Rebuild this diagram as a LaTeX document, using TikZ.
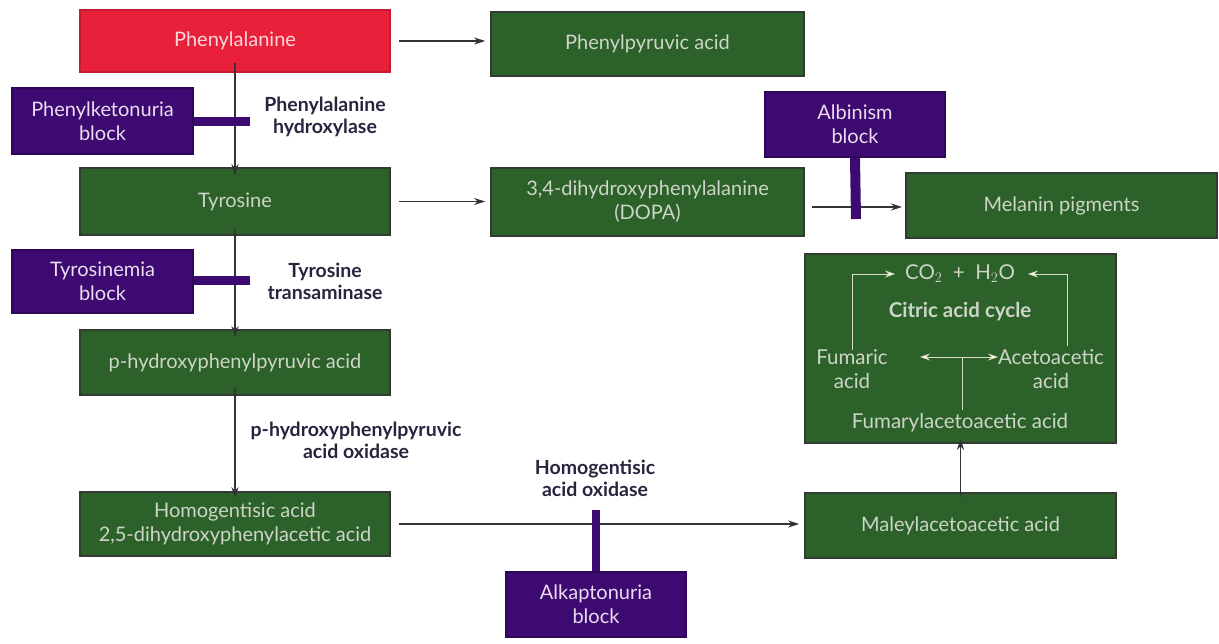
\documentclass[tikz,border=0pt]{standalone}
\usepackage{fontspec}
\setmainfont{Lato}
\usetikzlibrary{arrows.meta}
\definecolor{gfill}{RGB}{44,98,42}
\definecolor{gborder}{RGB}{50,58,50}
\definecolor{gtext}{RGB}{205,212,200}
\definecolor{rfill}{RGB}{232,32,58}
\definecolor{rtext}{RGB}{250,215,220}
\definecolor{pfill}{RGB}{60,10,112}
\definecolor{pborder}{RGB}{45,6,88}
\definecolor{ptext}{RGB}{235,220,240}
\definecolor{labcol}{RGB}{40,36,62}
\definecolor{arrcol}{RGB}{50,50,55}
\definecolor{incol}{RGB}{215,220,190}
\tikzset{
  box/.style={inner sep=0pt, align=center, font=\fontsize{20}{24}\selectfont, line width=1.6pt},
  gbox/.style={box, draw=gborder, fill=gfill, text=gtext},
  rbox/.style={box, draw=rfill!85!black, fill=rfill, text=rtext},
  pbox/.style={box, draw=pborder, fill=pfill, text=ptext},
  lab/.style={align=center, text=labcol, font=\fontsize{19.5}{22}\selectfont\bfseries},
  arr/.style={draw=arrcol, line width=1.4pt, -{Stealth[length=11pt,width=7pt]}},
  bar/.style={draw=pfill, line width=9pt},
  intext/.style={text=gtext, align=center, font=\fontsize{20.5}{24}\selectfont},
  inarr/.style={draw=incol, line width=0.7pt, -{Stealth[length=10pt,width=7pt,fill=white]}},
  inline/.style={draw=incol, line width=0.7pt},
}
\begin{document}
\begin{tikzpicture}[x=1pt,y=-1pt]
\useasboundingbox (0,0) rectangle (1219,644);
% main boxes
\node[rbox, minimum width=310pt, minimum height=62pt] (phe) at (235,41) {Phenylalanine};
\node[gbox, minimum width=313pt, minimum height=64pt] (ppa) at (647.5,44) {Phenylpyruvic acid};
\node[pbox, minimum width=181pt, minimum height=66pt] (pku) at (102.5,121) {Phenylketonuria\\block};
\node[gbox, minimum width=310pt, minimum height=67pt] (tyr) at (235,201.5) {Tyrosine};
\node[gbox, minimum width=313pt, minimum height=68pt] (dopa) at (647.5,202) {3,4-dihydroxyphenylalanine\\(DOPA)};
\node[pbox, minimum width=180pt, minimum height=65pt] (alb) at (855,124.5) {Albinism\\block};
\node[gbox, minimum width=311pt, minimum height=65pt] (mel) at (1061.5,205.5) {Melanin pigments};
\node[pbox, minimum width=181pt, minimum height=63pt] (tyrb) at (102.5,281.5) {Tyrosinemia\\block};
\node[gbox, minimum width=310pt, minimum height=65pt] (php) at (235,362.5) {p-hydroxyphenylpyruvic acid};
\node[gbox, minimum width=311pt, minimum height=189pt] (cac) at (960.5,348.5) {};
\node[gbox, minimum width=310pt, minimum height=64pt] (hga) at (235,524) {Homogentisic acid\\2,5-dihydroxyphenylacetic acid};
\node[gbox, minimum width=311pt, minimum height=65pt] (mal) at (960.5,525.5) {Maleylacetoacetic acid};
\node[pbox, minimum width=180pt, minimum height=65pt] (alk) at (596,604.5) {Alkaptonuria\\block};
% enzyme labels
\node[lab] (l1) at (325,117) {Phenylalanine\\hydroxylase};
\node[lab] (l2) at (325,281) {Tyrosine\\transaminase};
\node[lab] (l3) at (356,440) {p-hydroxyphenylpyruvic\\acid oxidase};
\node[lab] (l4) at (595,478) {Homogentisic\\acid oxidase};
% arrows
\coordinate (dopaout) at (812,207);
\coordinate (melin) at (902,207);
\draw[arr] ([xshift=8pt]phe.east) -- ([xshift=-5pt]phe.east -| ppa.west);
\draw[arr] ([yshift=10pt]phe.south) -- ([yshift=-8pt]tyr.north);
\draw[arr] ([xshift=8pt]tyr.east) -- ([xshift=-5pt]tyr.east -| dopa.west);
\draw[arr] (dopaout) -- (melin);
\draw[arr] ([yshift=7pt]tyr.south) -- ([yshift=-8pt]php.north);
\draw[arr] ([yshift=8pt]php.south) -- ([yshift=-7pt]hga.north);
\draw[arr] ([xshift=8pt]hga.east) -- ([xshift=-5pt]hga.east -| mal.west);
\draw[arr] ([yshift=-5pt]mal.north) -- ([yshift=5pt]cac.south);
% block bars
\coordinate (pkuend) at (250,121.5);
\coordinate (tyrbend) at (250,281);
\coordinate (albend) at (856,219);
\coordinate (alkend) at (596,510);
\draw[bar] (pku.east |- pkuend) -- (pkuend);
\draw[bar] (tyrb.east |- tyrbend) -- (tyrbend);
\draw[bar, line width=10pt] (alb.south) -- (albend);
\draw[bar, line width=8pt] (alk.north) -- (alkend);
% citric acid cycle contents
\node[intext] (co2) at (960,274) {CO$_2$ \ + \ H$_2$O};
\node[intext, font=\fontsize{20.5}{24}\selectfont\bfseries] (cit) at (960,312) {Citric acid cycle};
\node[intext] (fum) at (852,369) {Fumaric\\acid};
\node[intext] (aceto) at (1051,369) {Acetoacetic\\acid};
\node[intext] (fumac) at (960,423) {Fumarylacetoacetic acid};
\coordinate (jn) at (962,357);
\coordinate (jl) at (920,357);
\coordinate (jr) at (998,357);
\coordinate (cl) at (895,274);
\coordinate (cr) at (1028,274);
\draw[inarr] (852,350) |- (cl);
\draw[inarr] (1067,346) |- (cr);
\draw[inline] (fumac.north -| jn) -- (jn);
\draw[inarr] (jn) -- (jl);
\draw[inarr] (jn) -- (jr);
\end{tikzpicture}
\end{document}
